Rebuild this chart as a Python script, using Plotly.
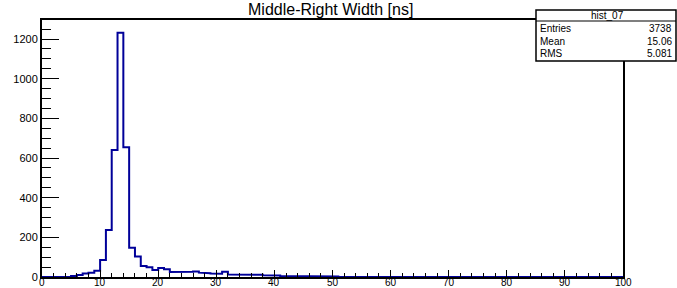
import plotly.graph_objects as go

# ---- data -------------------------------------------------------------
bin_low_edges = list(range(0, 100))          # 100 bins of width 1 ns, 0..100
counts = [
    0, 0, 0, 0, 1, 5, 10, 18, 22, 32,
    86, 237, 640, 1232, 654, 148, 103, 55, 49, 35,
    45, 39, 25, 25, 23, 26, 28, 22, 19, 17,
    16, 27, 12, 11, 12, 13, 13, 11, 9, 10,
    8, 5, 4, 4, 3, 3, 4, 3, 3, 2,
    2, 1, 1, 0, 0, 0, 0, 0, 0, 0,
    0, 0, 0, 0, 0, 0, 0, 0, 0, 0,
    0, 0, 0, 0, 0, 0, 0, 0, 0, 0,
    0, 0, 0, 0, 0, 0, 0, 0, 0, 0,
    0, 0, 0, 0, 0, 0, 0, 0, 0, 0,
]
bin_width = 1
x_tick_vals = [0, 10, 20, 30, 40, 50, 60, 70, 80, 90, 100]
x_tick_text = ["0", "10", "20", "30", "40", "50", "60", "70", "80", "90", "100"]
title_text = "Middle-Right Width [ns]"
stats_name = "hist_07"
stats_labels = ["Entries", "Mean", "RMS"]
stats_values = ["3738", "15.06", "5.081"]

# ---- build step outline ------------------------------------------------
step_x = [bin_low_edges[0]]
step_y = [0]
for lo, c in zip(bin_low_edges, counts):
    step_x += [lo, lo + bin_width]
    step_y += [c, c]
step_x.append(bin_low_edges[-1] + bin_width)
step_y.append(0)

FONT = "Liberation Sans, Arial, Helvetica, sans-serif"

fig = go.Figure()
fig.add_trace(go.Scatter(
    x=step_x, y=step_y, mode="lines",
    line=dict(color="#000099", width=2),
    hoverinfo="skip", showlegend=False,
))

ymax = 1296
fig.update_layout(
    width=677, height=288,
    margin=dict(l=42, r=54, t=20, b=11, pad=0),
    paper_bgcolor="white", plot_bgcolor="white",
    font=dict(family=FONT, size=11, color="black"),
    showlegend=False,
    xaxis=dict(
        range=[0, 100], showgrid=False, zeroline=False,
        showline=True, linecolor="black", linewidth=2, mirror=True,
        ticks="inside", ticklen=7, tickwidth=1, tickcolor="black",
        tickvals=x_tick_vals, showticklabels=False,
        minor=dict(ticks="inside", ticklen=4, tickwidth=1, tickcolor="black",
                   tick0=0, dtick=2),
        automargin=False, fixedrange=True,
    ),
    yaxis=dict(
        range=[0, ymax], showgrid=False, zeroline=False,
        showline=True, linecolor="black", linewidth=2, mirror=True,
        ticks="inside", ticklen=17, tickwidth=1, tickcolor="black",
        tick0=0, dtick=200,
        minor=dict(ticks="inside", ticklen=9, tickwidth=1, tickcolor="black", dtick=50),
        tickfont=dict(family=FONT, size=11, color="black"),
        automargin=False, fixedrange=True,
    ),
)

# pixel helpers (plot area: x 42..623, y 20..277)
L, R, T, B = 42, 623, 20, 277
def px(x):
    return (x - L) / (R - L)
def py(y):
    return (B - y) / (B - T)

# x tick labels (placed via the x axis scale)
for v, t in zip(x_tick_vals, x_tick_text):
    fig.add_annotation(text=t, xref="x", yref="paper", x=v, y=py(275.5),
                       xanchor="center", yanchor="top", showarrow=False,
                       borderpad=0,
                       font=dict(family=FONT, size=10, color="black"))

# title
fig.add_annotation(
    text=title_text, xref="paper", yref="paper",
    x=px(330), y=py(9.5), xanchor="center", yanchor="middle",
    showarrow=False, borderpad=0, font=dict(family=FONT, size=16, color="black"),
)

# stats box
fig.add_shape(type="rect", xref="paper", yref="paper",
              x0=px(536), x1=px(676), y0=py(61), y1=py(10),
              line=dict(color="black", width=1.5), fillcolor="white", layer="above")
fig.add_shape(type="line", xref="paper", yref="paper",
              x0=px(536), x1=px(676), y0=py(21), y1=py(21),
              line=dict(color="black", width=1.2), layer="above")
fig.add_annotation(text=stats_name, xref="paper", yref="paper",
                   x=px(607), y=py(15.5), xanchor="center", yanchor="middle",
                   showarrow=False, font=dict(family=FONT, size=10, color="black"))
row_y = [28, 41.5, 53]
for lab, val, yy in zip(stats_labels, stats_values, row_y):
    fig.add_annotation(text=lab, xref="paper", yref="paper",
                       x=px(538), y=py(yy), xanchor="left", yanchor="middle",
                       showarrow=False, font=dict(family=FONT, size=10, color="black"))
    fig.add_annotation(text=val, xref="paper", yref="paper",
                       x=px(674), y=py(yy), xanchor="right", yanchor="middle",
                       showarrow=False, font=dict(family=FONT, size=10, color="black"))

fig.write_html(
    "out.html",
    config={"displayModeBar": False},
    post_script="document.body.style.margin='0';document.body.style.padding='0';",
)
